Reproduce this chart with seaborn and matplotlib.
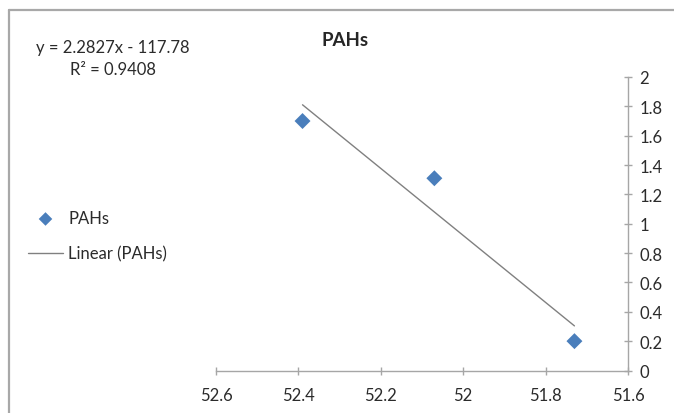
import matplotlib
matplotlib.use("Agg")
import matplotlib.pyplot as plt
from matplotlib.lines import Line2D
import numpy as np
import pandas as pd
import seaborn as sns

# ---- data ----
x_vals = [52.39, 52.07, 51.73]
y_vals = [1.70, 1.31, 0.20]
series_name = "PAHs"
trend_name = "Linear (PAHs)"
slope = 2.2827
intercept = -117.78
equation_text = "y = 2.2827x - 117.78"
r2_text = "R² = 0.9408"
x_ticks = [52.6, 52.4, 52.2, 52.0, 51.8, 51.6]
x_tick_labels = ["52.6", "52.4", "52.2", "52", "51.8", "51.6"]
y_ticks = [0, 0.2, 0.4, 0.6, 0.8, 1.0, 1.2, 1.4, 1.6, 1.8, 2.0]
y_tick_labels = ["0", "0.2", "0.4", "0.6", "0.8", "1", "1.2", "1.4", "1.6", "1.8", "2"]

sns.set_style("white")
plt.rcParams["font.family"] = ["Lato", "DejaVu Sans"]

W, H = 674, 414
FS = 12
fig = plt.figure(figsize=(W / 100, H / 100), dpi=100)
fig.patch.set_facecolor("white")

ax = fig.add_axes([216 / W, 1 - 371.5 / H, (628 - 216) / W, (371.5 - 78) / H])

df = pd.DataFrame({"x": x_vals, "y": y_vals})
sns.scatterplot(data=df, x="x", y="y", marker="D", s=66, color="#4a7ebb",
                edgecolor="none", label=series_name, ax=ax, zorder=3)

x_line = np.array([min(x_vals), max(x_vals)])
trend = pd.DataFrame({"x": x_line, "y": slope * x_line + intercept})
sns.lineplot(data=trend, x="x", y="y", color="#808080", linewidth=1.0,
             label=trend_name, ax=ax, zorder=2)

ax.set_xlim(52.6, 51.6)
ax.set_ylim(0, 2)
ax.set_xticks(x_ticks)
ax.set_xticklabels(x_tick_labels)
ax.set_yticks(y_ticks)
ax.set_yticklabels(y_tick_labels)
ax.yaxis.tick_right()
ax.set_xlabel("")
ax.set_ylabel("")
for side in ["top", "left"]:
    ax.spines[side].set_visible(False)
for side in ["right", "bottom"]:
    ax.spines[side].set_visible(True)
    ax.spines[side].set_color("#a6a6a6")
    ax.spines[side].set_linewidth(1.0)
ax.tick_params(axis="x", direction="inout", length=6, width=1, color="#a6a6a6",
               labelsize=FS, labelcolor="#2b2b2b", pad=9, bottom=True)
ax.tick_params(axis="y", direction="inout", length=6, width=1, color="#a6a6a6",
               labelsize=FS, labelcolor="#2b2b2b", pad=5, right=True, left=False)
ax.set_facecolor("white")

leg = ax.legend(loc="center left", bbox_to_anchor=(28 / W, 1 - 237 / H),
                bbox_transform=fig.transFigure, frameon=False, fontsize=FS,
                handlelength=2.1, handletextpad=0.3, labelspacing=1.15,
                borderpad=0, borderaxespad=0, labelcolor="#2b2b2b",
                markerscale=0.85)

fig.text(345 / W, 1 - 41 / H, "PAHs", ha="center", va="center",
         fontsize=13.5, fontweight="bold", color="#262626")
fig.text(113 / W, 1 - 48 / H, equation_text, ha="center", va="center",
         fontsize=FS, color="#2b2b2b")
fig.text(113 / W, 1 - 70 / H, r2_text, ha="center", va="center",
         fontsize=FS, color="#2b2b2b")

# chart border (left and top edges visible in the crop)
fig.add_artist(Line2D([9 / W, 9 / W], [0, 1 - 11 / H], transform=fig.transFigure,
                      color="#a8a8a8", linewidth=1.6))
fig.add_artist(Line2D([9 / W, 1], [1 - 11 / H, 1 - 11 / H], transform=fig.transFigure,
                      color="#a8a8a8", linewidth=1.6))

fig.savefig("out.png", dpi=100)
